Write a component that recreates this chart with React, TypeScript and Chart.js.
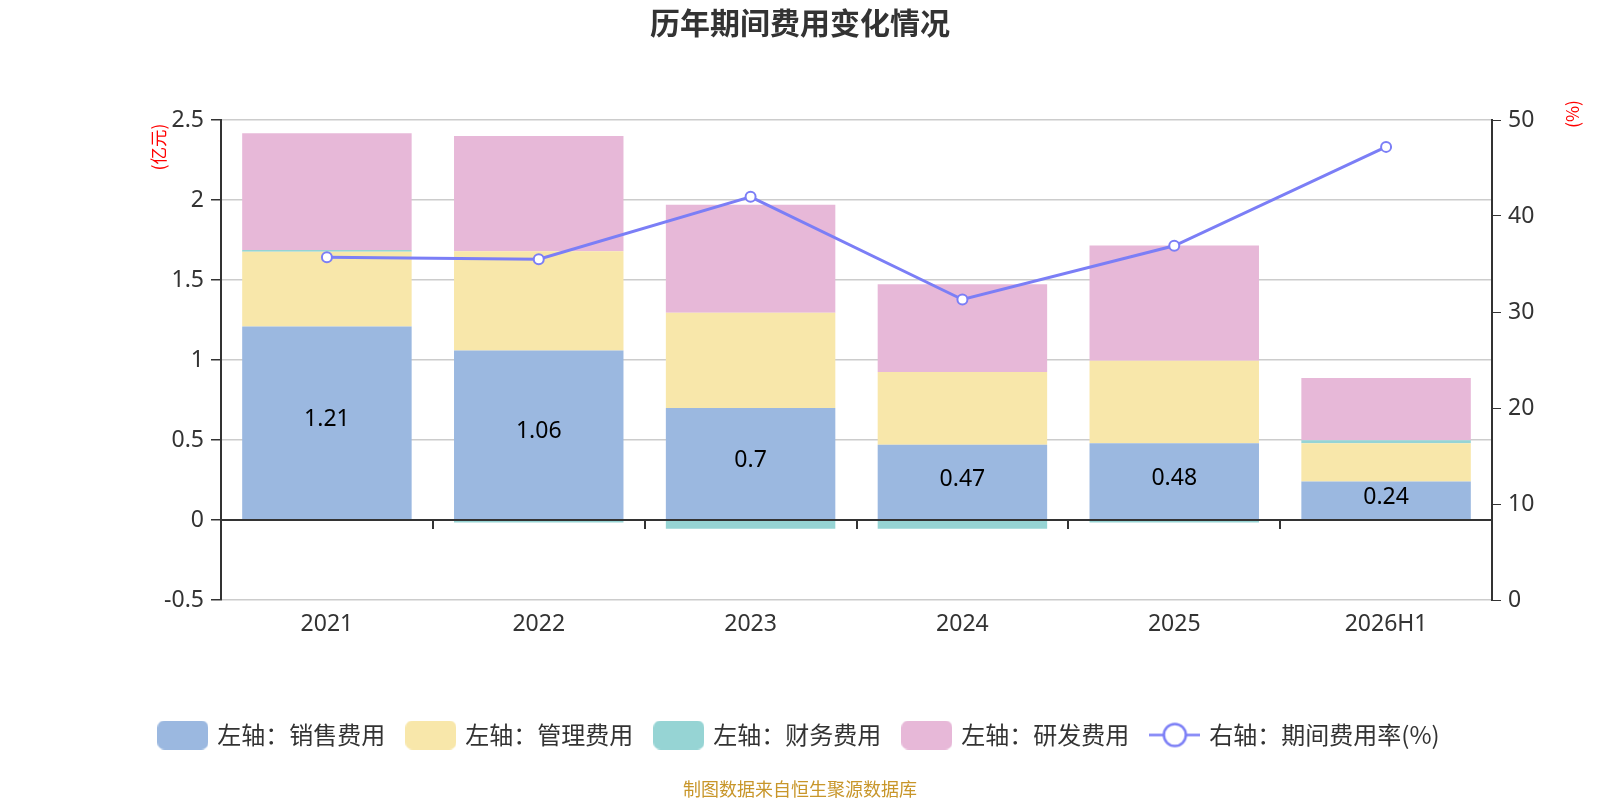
import { useEffect, useRef } from "react";
import { Chart, registerables } from "chart.js";

Chart.register(...registerables);
Chart.defaults.font.family = '"Noto Sans", "Noto Sans CJK SC", sans-serif';

const years = ["2021", "2022", "2023", "2024", "2025", "2026H1"];
const salesCost = [1.21, 1.06, 0.7, 0.47, 0.48, 0.24];
const adminCost = [0.467, 0.62, 0.595, 0.455, 0.515, 0.24];
const financeCost = [0.01, -0.016, -0.055, -0.055, -0.016, 0.018];
const rdCost = [0.73, 0.72, 0.676, 0.548, 0.72, 0.39];
const expenseRate = [35.7, 35.5, 42.0, 31.3, 36.9, 47.2];

const leftTicks = [-0.5, 0, 0.5, 1, 1.5, 2, 2.5];
const rightTicks = [0, 10, 20, 30, 40, 50];

const COLORS = {
  sales: "#9bb8e0",
  admin: "#f8e7aa",
  finance: "#96d4d4",
  rd: "#e7b8d8",
  rate: "#7b7ef6",
};

function boxIcon(color: string) {
  const c = document.createElement("canvas");
  c.width = 51;
  c.height = 29;
  const g = c.getContext("2d")!;
  g.fillStyle = color;
  g.beginPath();
  g.roundRect(0, 0, 51, 29, 7);
  g.fill();
  return c;
}

function lineIcon(color: string) {
  const c = document.createElement("canvas");
  c.width = 51;
  c.height = 29;
  const g = c.getContext("2d")!;
  g.strokeStyle = color;
  g.lineWidth = 2.5;
  g.beginPath();
  g.moveTo(0, 14.5);
  g.lineTo(51, 14.5);
  g.stroke();
  g.fillStyle = "#fff";
  g.beginPath();
  g.arc(25.5, 14.5, 11, 0, Math.PI * 2);
  g.fill();
  g.stroke();
  return c;
}

// zero axis line with category ticks, value labels, axis names and source note
const extras = {
  id: "extras",
  afterDatasetsDraw(chart: any) {
    const { ctx, chartArea, scales } = chart;
    const x = scales.x;
    const y0 = Math.round(scales.y.getPixelForValue(0));
    ctx.save();
    ctx.strokeStyle = "#333";
    ctx.lineWidth = 2;
    ctx.beginPath();
    ctx.moveTo(chartArea.left, y0);
    ctx.lineTo(chartArea.right, y0);
    for (let i = 1; i < years.length; i++) {
      const bx = Math.round((x.getPixelForValue(i - 1) + x.getPixelForValue(i)) / 2);
      ctx.moveTo(bx, y0);
      ctx.lineTo(bx, y0 + 9);
    }
    ctx.stroke();

    const meta = chart.getDatasetMeta(0);
    ctx.fillStyle = "#000";
    ctx.font = '23px "Noto Sans", sans-serif';
    ctx.textAlign = "center";
    ctx.textBaseline = "middle";
    meta.data.forEach((bar: any, i: number) => {
      ctx.fillText(String(salesCost[i]), bar.x, (bar.y + bar.base) / 2 - 3);
    });
    ctx.restore();
  },
  afterDraw(chart: any) {
    const { ctx, chartArea, width } = chart;
    ctx.save();
    ctx.fillStyle = "#ff0000";
    ctx.font = '17.5px "Noto Sans CJK SC", sans-serif';
    ctx.textAlign = "center";
    ctx.textBaseline = "middle";
    ctx.translate(158, chartArea.top + 27);
    ctx.rotate(-Math.PI / 2);
    ctx.fillText("(亿元)", 0, 0);
    ctx.restore();

    ctx.save();
    ctx.fillStyle = "#ff0000";
    ctx.font = '17.5px "Noto Sans CJK SC", sans-serif';
    ctx.textAlign = "center";
    ctx.textBaseline = "middle";
    ctx.translate(chartArea.right + 80, chartArea.top - 6);
    ctx.rotate(-Math.PI / 2);
    ctx.fillText("(%)", 0, 0);
    ctx.restore();

    ctx.save();
    ctx.fillStyle = "#c8962a";
    ctx.font = '18px "Noto Sans CJK SC", sans-serif';
    ctx.textAlign = "center";
    ctx.textBaseline = "middle";
    ctx.fillText("制图数据来自恒生聚源数据库", width / 2, 789);
    ctx.restore();
  },
};

export default function App() {
  const canvasRef = useRef<HTMLCanvasElement>(null);
  const chartRef = useRef<Chart | null>(null);

  useEffect(() => {
    if (!canvasRef.current) return;
    if (chartRef.current) chartRef.current.destroy();

    const legendItems = [
      { text: "左轴：销售费用", icon: boxIcon(COLORS.sales), ds: 0 },
      { text: "左轴：管理费用", icon: boxIcon(COLORS.admin), ds: 1 },
      { text: "左轴：财务费用", icon: boxIcon(COLORS.finance), ds: 2 },
      { text: "左轴：研发费用", icon: boxIcon(COLORS.rd), ds: 3 },
      { text: "右轴：期间费用率(%)", icon: lineIcon(COLORS.rate), ds: 4 },
    ];

    const bar = (label: string, data: number[], color: string) => ({
      type: "bar" as const,
      label,
      data,
      backgroundColor: color,
      yAxisID: "y",
      stack: "cost",
      order: 1,
      categoryPercentage: 0.8,
      barPercentage: 1,
    });

    chartRef.current = new Chart(canvasRef.current, {
      type: "bar",
      data: {
        labels: years,
        datasets: [
          bar("左轴：销售费用", salesCost, COLORS.sales),
          bar("左轴：管理费用", adminCost, COLORS.admin),
          bar("左轴：财务费用", financeCost, COLORS.finance),
          bar("左轴：研发费用", rdCost, COLORS.rd),
          {
            type: "line",
            label: "右轴：期间费用率(%)",
            data: expenseRate,
            yAxisID: "y1",
            order: 0,
            borderColor: COLORS.rate,
            borderWidth: 3,
            pointRadius: 5,
            pointBorderWidth: 2,
            pointBackgroundColor: "#fff",
            pointBorderColor: COLORS.rate,
            tension: 0,
          } as any,
        ],
      },
      options: {
        responsive: false,
        animation: false,
        devicePixelRatio: 1,
        layout: { padding: { top: 0, bottom: 43, left: 0, right: 0 } },
        plugins: {
          title: {
            display: true,
            text: "历年期间费用变化情况",
            color: "#333",
            font: { family: '"Noto Sans CJK SC", sans-serif', size: 30, weight: "bold" },
            padding: { top: 4.5, bottom: 79.5 },
          },
          legend: {
            position: "bottom",
            labels: {
              usePointStyle: true,
              pointStyleWidth: 45,
              color: "#333",
              font: { family: '"Noto Sans CJK SC", sans-serif', size: 24 },
              padding: 23,
              generateLabels: () =>
                legendItems.map((it) => ({
                  text: it.text,
                  pointStyle: it.icon as any,
                  datasetIndex: it.ds,
                  fontColor: "#333",
                  hidden: false,
                  lineWidth: 0,
                })),
            },
          },
          tooltip: { enabled: false },
        },
        scales: {
          x: {
            stacked: true,
            grid: { display: false, drawTicks: false },
            border: { display: false },
            ticks: { color: "#333", font: { size: 23 }, padding: 11 },
            afterFit: (s: any) => {
              s.height = 100;
            },
          },
          y: {
            stacked: true,
            position: "left",
            min: -0.5,
            max: 2.5,
            afterBuildTicks: (s: any) => {
              s.ticks = leftTicks.map((v) => ({ value: v }));
            },
            grid: { color: "#cccccc", lineWidth: 1.5, tickColor: "#333", tickLength: 10 },
            border: { display: true, color: "#333", width: 2 },
            ticks: {
              color: "#333",
              font: { size: 23 },
              padding: 7,
              callback: (v: any) => String(v),
            },
            afterFit: (s: any) => {
              s.width = 221;
            },
          },
          y1: {
            position: "right",
            min: 0,
            max: 50,
            afterBuildTicks: (s: any) => {
              s.ticks = rightTicks.map((v) => ({ value: v }));
            },
            grid: { drawOnChartArea: false, tickColor: "#333", tickLength: 9 },
            border: { display: true, color: "#333", width: 2 },
            ticks: { color: "#333", font: { size: 23 }, padding: 7 },
            afterFit: (s: any) => {
              s.width = 108;
            },
          },
        },
      },
      plugins: [extras],
    } as any);

    return () => {
      if (chartRef.current) {
        chartRef.current.destroy();
        chartRef.current = null;
      }
    };
  }, []);

  return (
    <div style={{ position: "absolute", left: 0, top: 0, width: 1600, height: 800, background: "#fff" }}>
      <canvas ref={canvasRef} width={1600} height={800} />
    </div>
  );
}
